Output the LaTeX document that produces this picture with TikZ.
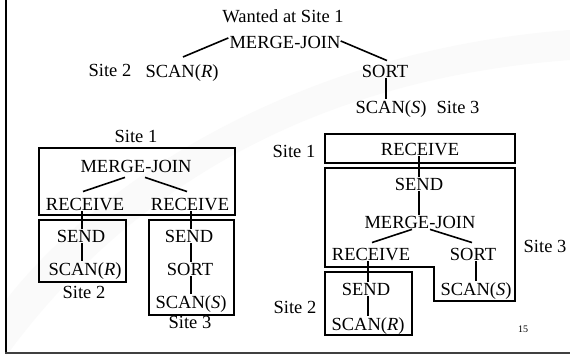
\documentclass[tikz,border=0pt]{standalone}
\usepackage{fontspec}
\setmainfont{Liberation Serif}
\usetikzlibrary{calc}
\begin{document}
\begin{tikzpicture}[x=1pt, y=-1pt,
  txt/.style={anchor=base, inner sep=1pt, font=\fontsize{18.5}{22}\selectfont, text=black},
  box/.style={draw=black, line width=1.7pt},
  conn/.style={draw=black, line width=1.6pt},
  frame/.style={line width=2.4pt}]
\useasboundingbox (0,0) rectangle (570,356);
\fill[white] (0,0) rectangle (570,356);
% faint background swoosh
\fill[black!2] (6,356) .. controls (120,200) and (300,80) .. (570,60) -- (570,30)
  .. controls (300,50) and (100,180) .. (6,300) -- cycle;

% slide frame
\draw[frame, black] (6,0) -- (6,353);
\draw[frame, black!75] (5,353) -- (570,353);

% ---- plan as wanted ----
\node[txt] (want) at (283,23) {Wanted at Site 1};
\node[txt] (tmj) at (285,48) {MERGE-JOIN};
\node[txt] (tsite2) at (110,76) {Site 2};
\node[txt] (tscanr) at (182,77) {SCAN(\textit{R})};
\node[txt] (tsort) at (385,77) {SORT};
\node[txt] (tscans) at (391,113) {SCAN(\textit{S})};
\node[txt] (tsite3) at (458,113) {Site 3};
\draw[conn] ($(tmj.west)+(0,-4)$) -- ($(tscanr.north)+(1,-6)$);
\draw[conn] ($(tmj.east)+(-1,-1)$) -- ($(tsort.north)+(2,-3)$);
\draw[conn] ($(tsort.south)+(1,0)$) -- ($(tsort.south |- tscans.north)+(1,0)$);

% ---- left plan: merge at site 1 ----
\node[txt] (ls1) at (136,142) {Site 1};
\draw[box] (39,148) rectangle (235,215);
\draw[box] (39,220) rectangle (126,282);
\draw[box] (149,220) rectangle (234,315);
\node[txt] (lmj) at (136,172) {MERGE-JOIN};
\node[txt] (lrc1) at (85,210) {RECEIVE};
\node[txt] (lrc2) at (190,210) {RECEIVE};
\node[txt] (lsd1) at (81,242) {SEND};
\node[txt] (lsr) at (85,275) {SCAN(\textit{R})};
\node[txt] (ls2) at (84,298) {Site 2};
\node[txt] (lsd2) at (189,242) {SEND};
\node[txt] (lso) at (190,275) {SORT};
\node[txt] (lss) at (191,308) {SCAN(\textit{S})};
\node[txt] (ls3) at (190,328) {Site 3};
\draw[conn] ($(lmj.south)+(-11,4)$) -- ($(lrc1.north)+(-2,-5)$);
\draw[conn] ($(lmj.south)+(9,4)$) -- ($(lrc2.north)+(-3,-5)$);
\draw[conn] ($(lsd1.north)+(1,0)$) -- ($(lsd1.north |- lrc1.south)+(1,0)$);
\draw[conn] ($(lsd2.north)+(2,0)$) -- ($(lsd2.north |- lrc2.south)+(2,0)$);
\draw[conn] ($(lsd1.south)+(1,0)$) -- ($(lsd1.south |- lsr.north)+(1,0)$);
\draw[conn] ($(lsd2.south)+(2,0)$) -- ($(lsd2.south |- lso.north)+(2,0)$);
\draw[conn] ($(lso.south)+(1,0)$) -- ($(lso.south |- lss.north)+(1,0)$);

% ---- right plan: merge at site 3 ----
\node[txt] (rs1) at (294,157) {Site 1};
\draw[box] (325,134) rectangle (515,163);
\draw[box] (325,168) -- (515,168) -- (515,301) -- (434,301) -- (434,267) -- (325,267) -- cycle;
\draw[box] (325,272) rectangle (412,335);
\node[txt] (rrc) at (420,155) {RECEIVE};
\node[txt] (rsd) at (419,190) {SEND};
\node[txt] (rmj) at (420,228) {MERGE-JOIN};
\node[txt] (rrc2) at (371,260) {RECEIVE};
\node[txt] (rso) at (473,260) {SORT};
\node[txt] (rss) at (476,295) {SCAN(\textit{S})};
\node[txt] (rsd2) at (366,295) {SEND};
\node[txt] (rsr) at (368,330) {SCAN(\textit{R})};
\node[txt] (rs2) at (295,313) {Site 2};
\node[txt] (rs3) at (545,252) {Site 3};
\node[anchor=base, inner sep=0pt, font=\fontsize{10}{12}\selectfont] (pg) at (523,332) {15};
\draw[conn] (rsd.north) -- (rsd.north |- rrc.south);
\draw[conn] (rsd.south) -- (rsd.south |- rmj.north);
\draw[conn] ($(rmj.south)+(-8,0)$) -- ($(rrc2.north)+(1,-4)$);
\draw[conn] ($(rmj.south)+(10,0)$) -- ($(rso.north)+(-1,-4)$);
\draw[conn] ($(rsd2.north)+(2,0)$) -- ($(rsd2.north |- rrc2.south)+(2,0)$);
\draw[conn] ($(rsd2.south)+(2,0)$) -- ($(rsd2.south |- rsr.north)+(2,0)$);
\draw[conn] (rss.north |- rso.south) -- (rss.north);
\end{tikzpicture}
\end{document}
